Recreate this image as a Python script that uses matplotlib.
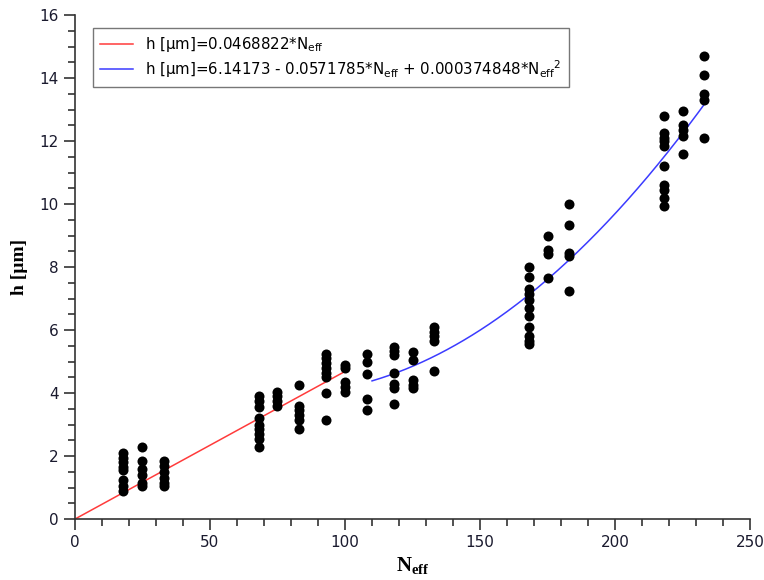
import numpy as np
import matplotlib
matplotlib.use("Agg")
import matplotlib.pyplot as plt
from matplotlib.ticker import MultipleLocator

plt.rcParams["mathtext.fontset"] = "custom"
plt.rcParams["mathtext.rm"] = "DejaVu Sans"
plt.rcParams["mathtext.bf"] = "Liberation Serif:bold"

# Measured layer height h [µm] for each effective number N_eff
n_eff_levels = [18, 25, 33, 68, 75, 83, 93, 100, 108, 118, 125, 133,
                168, 175, 183, 218, 225, 233]
h_values = [
    [2.1, 1.95, 1.8, 1.65, 1.55, 1.25, 1.05, 0.9],
    [2.3, 1.85, 1.6, 1.4, 1.15, 1.05],
    [1.85, 1.7, 1.5, 1.3, 1.15, 1.05],
    [3.9, 3.75, 3.55, 3.2, 3.0, 2.85, 2.7, 2.55, 2.3],
    [4.05, 3.9, 3.75, 3.6],
    [4.25, 3.6, 3.45, 3.3, 3.15, 2.85],
    [5.25, 5.1, 4.95, 4.8, 4.65, 4.5, 4.0, 3.15],
    [4.9, 4.8, 4.35, 4.2, 4.05],
    [5.25, 5.0, 4.6, 3.8, 3.45],
    [5.45, 5.35, 5.2, 4.65, 4.3, 4.15, 3.65],
    [5.3, 5.05, 4.4, 4.25, 4.15],
    [6.1, 5.95, 5.8, 5.65, 4.7],
    [8.0, 7.7, 7.3, 7.15, 6.95, 6.7, 6.45, 6.1, 5.8, 5.65, 5.55],
    [9.0, 8.55, 8.4, 7.65],
    [10.0, 9.35, 8.45, 8.35, 7.25],
    [12.8, 12.25, 12.1, 12.0, 11.85, 11.2, 10.6, 10.45, 10.2, 9.95],
    [12.95, 12.5, 12.35, 12.15, 11.6],
    [14.7, 14.1, 13.5, 13.3, 12.1],
]

# Fit coefficients
lin_slope = 0.0468822
quad_coeffs = [6.14173, -0.0571785, 0.000374848]
lin_range = [0, 100]
quad_range = [110, 233]

x_pts = np.concatenate([[x] * len(h) for x, h in zip(n_eff_levels, h_values)])
y_pts = np.concatenate(h_values)

fig = plt.figure(figsize=(7.64, 5.8), dpi=100)
ax = fig.add_axes([0.098, 0.105, 0.884, 0.869])

ax.scatter(x_pts, y_pts, s=52, color="black", zorder=3, linewidths=0)

xl = np.linspace(lin_range[0], lin_range[1], 200)
ax.plot(xl, lin_slope * xl, color="#ff3b3b", lw=1.1, zorder=2,
        label=r"h [μm]=0.0468822*N$_{\mathrm{eff}}$")
xq = np.linspace(quad_range[0], quad_range[1], 200)
yq = quad_coeffs[0] + quad_coeffs[1] * xq + quad_coeffs[2] * xq ** 2
ax.plot(xq, yq, color="#3b3bff", lw=1.1, zorder=2,
        label=r"h [μm]=6.14173 - 0.0571785*N$_{\mathrm{eff}}$ + 0.000374848*N$_{\mathrm{eff}}$$^{2}$")

ax.set_xlim(0, 250)
ax.set_ylim(0, 16)
ax.xaxis.set_major_locator(MultipleLocator(50))
ax.xaxis.set_minor_locator(MultipleLocator(10))
ax.yaxis.set_major_locator(MultipleLocator(2))
ax.yaxis.set_minor_locator(MultipleLocator(0.5))

for side in ("top", "right"):
    ax.spines[side].set_visible(False)
for side in ("left", "bottom"):
    ax.spines[side].set_color("#333333")
    ax.spines[side].set_linewidth(1.2)

ax.tick_params(which="major", direction="out", length=8, width=1.2,
               color="#333333", labelsize=11, labelcolor="#1a1a2e")
ax.tick_params(which="minor", direction="out", length=5, width=1.2,
               color="#333333")

ax.set_xlabel(r"N$_{\mathbf{eff}}$", fontfamily="Liberation Serif",
              fontweight="bold", fontsize=15, labelpad=4)
ax.set_ylabel("h [µm]", fontfamily="Liberation Serif",
              fontweight="bold", fontsize=14, labelpad=8)

leg = ax.legend(loc="upper left", bbox_to_anchor=(0.015, 0.99), fontsize=10.8,
                frameon=True, fancybox=False, handlelength=2.2,
                borderpad=0.5, labelspacing=0.25)
leg.get_frame().set_edgecolor("#555555")
leg.get_frame().set_linewidth(1.0)

fig.savefig("out.png", dpi=100)
